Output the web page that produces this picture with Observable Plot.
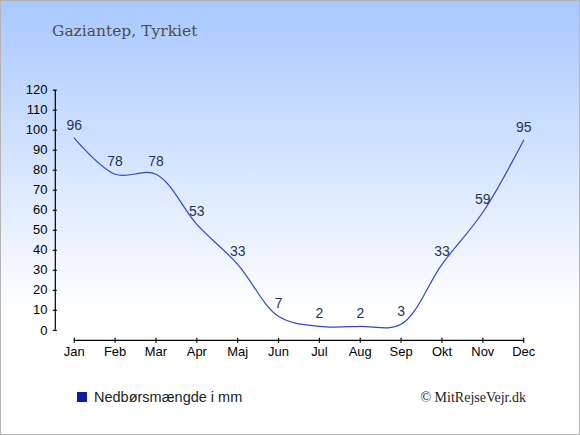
<!DOCTYPE html>
<html>
<head>
<meta charset="utf-8">
<script src="https://cdn.jsdelivr.net/npm/d3@7"></script>
<script src="https://cdn.jsdelivr.net/npm/@observablehq/plot@0.6"></script>
<style>
  html, body { margin: 0; padding: 0; }
  #frame {
    position: relative; width: 580px; height: 435px; box-sizing: border-box;
    border: 1px solid #b4b4b4;
    background: linear-gradient(to bottom, #a8c8ff 0px, #ffffff 310px, #ffffff 435px);
    overflow: hidden;
  }
  #frame svg { position: absolute; left: -1px; top: -1px; background: transparent; }
  .title { position: absolute; left: 51px; top: 21px; font: 15.5px "DejaVu Serif", serif; color: #4d4d4d; }
  .legend { position: absolute; left: 76px; top: 388px; font: 14.5px "Liberation Sans", Arial, sans-serif; color: #222; display: flex; align-items: center; }
  .legend .sw { width: 10px; height: 10px; background: #0a1aaa; margin-right: 7px; }
  .copy { position: absolute; right: 53px; top: 389px; font: 14px "Liberation Serif", serif; color: #222; }
</style>
</head>
<body>
<div id="frame">
  <div class="title">Gaziantep, Tyrkiet</div>
  <div class="legend"><div class="sw"></div><span>Nedbørsmængde i mm</span></div>
  <div class="copy">© MitRejseVejr.dk</div>
</div>
<script>
const months = ["Jan","Feb","Mar","Apr","Maj","Jun","Jul","Aug","Sep","Okt","Nov","Dec"];
const precipitation = [96, 78, 78, 53, 33, 7, 2, 2, 3, 33, 59, 95];
const yTicks = [0,10,20,30,40,50,60,70,80,90,100,110,120];

const data = months.map((m, i) => ({month: m, value: precipitation[i]}));

const chart = Plot.plot({
  width: 580,
  height: 435,
  marginLeft: 74,
  marginRight: 55,
  marginTop: 90,
  marginBottom: 104,
  style: {background: "transparent", fontFamily: "'Liberation Sans', Arial, sans-serif", fontSize: "13px", color: "#000", overflow: "visible"},
  x: {type: "point", domain: months, padding: 0, axis: null},
  y: {domain: [0, 120], axis: null},
  marks: [
    Plot.axisY({ticks: yTicks, label: null, tickSize: 4, tickPadding: 6, dx: -17, stroke: "#000", fill: "#000", strokeWidth: 1.2, fontSize: 13}),
    Plot.ruleX([months[0]], {y1: 0, y2: 120, dx: -19, stroke: "#000", strokeWidth: 1.2}),
    Plot.axisX({ticks: months, label: null, tickSize: 5, tickPadding: 3, dy: 8, stroke: "#000", fill: "#000", strokeWidth: 1.2, fontSize: 13}),
    Plot.ruleY([0], {dy: 10, stroke: "#000", strokeWidth: 1.2}),
    Plot.line(data, {x: "month", y: "value", curve: "catmull-rom", stroke: "#3344cc", strokeWidth: 1.2}),
    Plot.text(data, {x: "month", y: "value", text: d => String(d.value), lineAnchor: "bottom", dy: -8, fill: "#223355", fontSize: 14})
  ]
});
document.getElementById("frame").appendChild(chart);
</script>
</body>
</html>
